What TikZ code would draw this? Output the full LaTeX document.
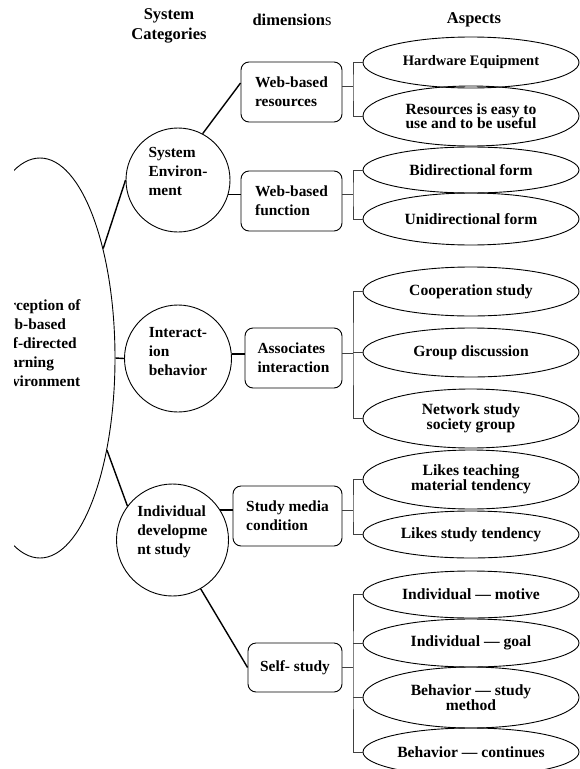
\documentclass[tikz,border=0pt]{standalone}
\usepackage{fontspec}
\setmainfont{Liberation Serif}
\usetikzlibrary{shapes.geometric}
\begin{document}
\begin{tikzpicture}[x=1pt,y=-1pt,
  hdr/.style={font=\fontsize{16.5}{20}\selectfont\bfseries, align=center, inner sep=0pt},
  circ/.style={draw, circle, line width=0.9pt, inner sep=0pt},
  ctext/.style={font=\fontsize{15.4}{19}\selectfont\bfseries, align=left, inner sep=0pt},
  dimbox/.style={draw, rounded corners=8pt, line width=0.9pt, font=\fontsize{15.4}{19}\selectfont\bfseries, align=left, minimum height=60pt, inner sep=0pt},
  asp/.style={draw, ellipse, line width=0.9pt, inner sep=0pt, minimum width=216pt, font=\fontsize{15.6}{14.5}\selectfont\bfseries, align=center},
  conn/.style={line width=1.4pt},
  brk/.style={line width=0.9pt, black!75},
]
\useasboundingbox (0,0) rectangle (580,769);
\begin{scope}
\clip (14,0) rectangle (580,769);
% headers
\node[hdr] (h1) at (169,26) {System\\Categories};
\node[hdr] (h2) at (292,20) {dimension\textmd{s}};
\node[hdr] (h3) at (474,20) {Aspects};
% big ellipse
\node[draw, ellipse, minimum width=150pt, minimum height=400pt, inner sep=0pt, line width=0.9pt] (pe) at (40,358) {};
\node[ctext, anchor=west] (pet) at (-7,343) {Perception of\\Web-based\\Self-directed\\Learning\\Environment};
% circles
\node[circ, minimum size=104pt, label={[ctext, yshift=9pt]center:{System\\Environ-\\ment}}] (se) at (178,180) {};
\node[circ, minimum size=107pt, label={[ctext, yshift=7pt]center:{Interact-\\ion\\behavior}}] (ib) at (178,358.5) {};
\node[circ, minimum size=112pt, label={[ctext, yshift=8pt]center:{Individual\\developme\\nt study}}] (id) at (172.5,540) {};
% dimension boxes
\node[dimbox, minimum width=101pt] (wbr) at (291.5,92) {Web-based\\resources};
\node[dimbox, minimum width=101pt] (wbf) at (291.5,201) {Web-based\\function};
\node[dimbox, minimum width=97pt] (ai) at (293.5,358) {Associates\\interaction};
\node[dimbox, minimum width=109pt] (smc) at (287.5,516) {Study media\\condition};
\node[dimbox, minimum width=94pt, minimum height=49pt] (ss) at (295,667.5) {Self- study};
% aspects
\node[asp, minimum height=51pt] (e1) at (471,62.5) {\fontsize{14.5}{14}\selectfont Hardware Equipment};
\node[asp, minimum height=60pt] (e2) at (471,116) {Resources is easy to\\use and to be useful};
\node[asp, minimum height=46pt] (e3) at (471,170) {Bidirectional form};
\node[asp, minimum height=52pt] (e4) at (471,219) {Unidirectional form};
\node[asp, minimum height=49pt] (e5) at (471,291.5) {Cooperation study};
\node[asp, minimum height=49pt] (e6) at (471,352.5) {Group discussion};
\node[asp, minimum height=59pt] (e7) at (471,418.5) {Network study\\society group};
\node[asp, minimum height=59pt] (e8) at (471,479.5) {Likes teaching\\material tendency};
\node[asp, minimum height=47pt] (e9) at (471,534.5) {Likes study tendency};
\node[asp, minimum height=47pt] (e10) at (471,594.5) {Individual — motive};
\node[asp, minimum height=48pt] (e11) at (471,643) {Individual — goal};
\node[asp, minimum height=61pt] (e12) at (471,697.5) {Behavior — study\\method};
\node[asp, minimum height=48pt] (e13) at (471,752) {Behavior — continues};
% connectors
\draw[conn] (pe.60) -- (se.west);
\draw[conn] (pe.east) -- (ib.west);
\draw[conn] (pe.-54) -- (id.143);
\draw[conn] (se.62) -- ([yshift=9pt]wbr.west);
\draw[conn] (se.-16) -- (se.-16 -| wbf.west);
\draw[conn] (ib.5) -- (ib.5 -| ai.west);
\draw[conn] (id.32) -- (id.32 -| smc.west);
\draw[conn] (id.-60) -- (ss.west);
% brackets
\coordinate (k1) at (353,86);
\coordinate (k2) at (353,194);
\coordinate (k3) at (353,353);
\coordinate (k4) at (353,510);
\coordinate (k5) at (353,667);
\draw[brk] (wbr.east |- k1) -- (k1);
\draw[brk] (e1.west) -| (k1) |- (e2.west);
\draw[brk] (wbf.east |- k2) -- (k2);
\draw[brk] (e3.west) -| (k2) |- (e4.west);
\draw[brk] (ai.east |- k3) -- (k3);
\draw[brk] (e5.west) -| (k3) |- (e7.west);
\draw[brk] (e6.west) -- (e6.west -| k3);
\draw[brk] (smc.east |- k4) -- (k4);
\draw[brk] (e8.west) -| (k4) |- (e9.west);
\draw[brk] (ss.east |- k5) -- (k5);
\draw[brk] (e10.west) -| (k5) |- (e13.west);
\draw[brk] (e11.west) -- (e11.west -| k5);
\draw[brk] (e12.west) -- (e12.west -| k5);
\end{scope}
\end{tikzpicture}
\end{document}
